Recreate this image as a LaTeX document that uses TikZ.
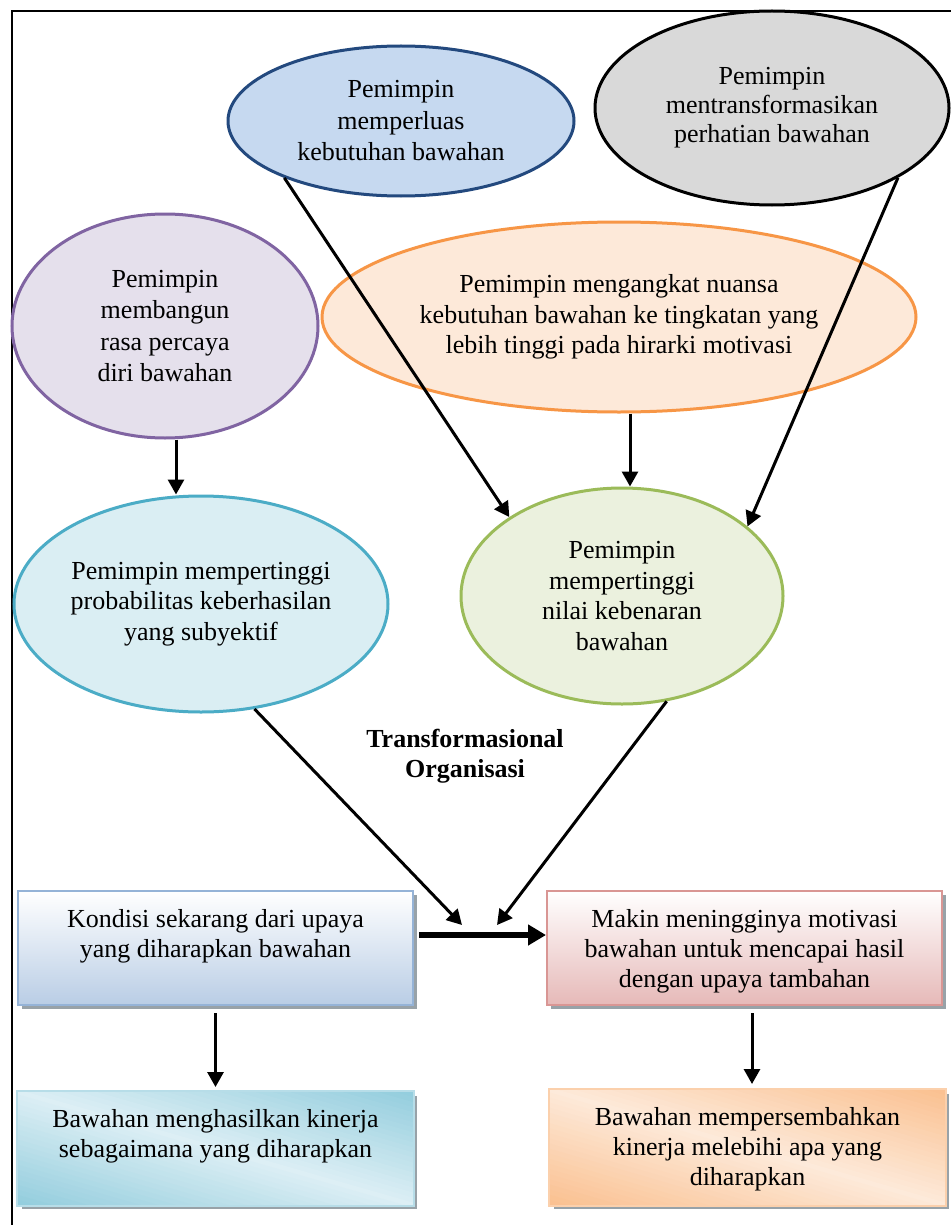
\documentclass[tikz,border=0pt]{standalone}
\usepackage{fontspec}
\setmainfont{Liberation Serif}
\usetikzlibrary{shapes.geometric,arrows.meta,shadows}
\definecolor{blueB}{HTML}{23497E}
\definecolor{blueF}{HTML}{C6D9F0}
\definecolor{grayF}{HTML}{D9D9D9}
\definecolor{purpB}{HTML}{8064A2}
\definecolor{purpF}{HTML}{E5E0EC}
\definecolor{oranB}{HTML}{F79646}
\definecolor{oranF}{HTML}{FDE9D9}
\definecolor{cyanB}{HTML}{4BACC6}
\definecolor{cyanF}{HTML}{DAEEF3}
\definecolor{greenB}{HTML}{9BBB59}
\definecolor{greenF}{HTML}{EBF1DE}
\definecolor{b1B}{HTML}{95B3D7}
\definecolor{b1F}{HTML}{B9CDE5}
\definecolor{b2B}{HTML}{D99694}
\definecolor{b2F}{HTML}{E6B9B8}
\definecolor{b3D}{HTML}{93CDDD}
\definecolor{b3L}{HTML}{DDEFF5}
\definecolor{b3B}{HTML}{B7DDE8}
\definecolor{b4D}{HTML}{FAC090}
\definecolor{b4L}{HTML}{FDEADA}
\definecolor{b4B}{HTML}{FBD0AC}
\definecolor{shad}{HTML}{98A2A8}
\begin{document}
\begin{tikzpicture}[x=1pt,y=-1pt,
  ell/.style={ellipse, inner sep=0pt, align=center, line width=3pt,
    font=\fontsize{26}{30.5}\selectfont},
  arr/.style={line width=3pt, -{Triangle[length=15pt,width=16pt]}},
  boxs/.style={rectangle, inner sep=0pt, line width=2pt,
    minimum width=395pt, minimum height=114pt,
    drop shadow={shadow xshift=4pt, shadow yshift=-4pt, fill=shad, opacity=1}},
  txt/.style={align=center, inner sep=0pt, anchor=north,
    font=\fontsize{26}{30}\selectfont}]
\useasboundingbox (0,0) rectangle (950,1225);
\fill[white] (0,0) rectangle (950,1225);
% frame
\draw[line width=2.6pt] (952,11) -- (12,11) -- (12,1227);
% ellipses
\node[ell, draw=blueB, fill=blueF, minimum width=346pt, minimum height=150pt,
  font=\fontsize{26}{31.5}\selectfont]
  (E1) at (401,121) {Pemimpin\\memperluas\\kebutuhan bawahan};
\node[ell, draw=black, fill=grayF, minimum width=354pt, minimum height=194pt,
  font=\fontsize{26}{29}\selectfont]
  (E2) at (772,108) {Pemimpin\\mentransformasikan\\perhatian bawahan};
\node[ell, draw=purpB, fill=purpF, minimum width=306pt, minimum height=224pt,
  font=\fontsize{26}{31.5}\selectfont]
  (E3) at (165,326) {Pemimpin\\membangun\\rasa percaya\\diri bawahan};
\node[ell, draw=oranB, fill=oranF, minimum width=594pt, minimum height=190pt]
  (E4) at (619,317) {Pemimpin mengangkat nuansa\\kebutuhan bawahan ke tingkatan yang\\lebih tinggi pada hirarki motivasi};
\node[ell, draw=cyanB, fill=cyanF, minimum width=374pt, minimum height=216pt]
  (E5) at (201,604) {Pemimpin mempertinggi\\probabilitas keberhasilan\\yang subyektif};
\node[ell, draw=greenB, fill=greenF, minimum width=322pt, minimum height=216pt]
  (E6) at (622,596) {Pemimpin\\mempertinggi\\nilai kebenaran\\bawahan};
% title
\node[align=center, inner sep=0pt, font=\fontsize{26}{30}\selectfont\bfseries]
  (title) at (465,756) {Transformasional\\Organisasi};
% boxes
\node[boxs, draw=b1B, top color=white, bottom color=b1F] (B1) at (215.5,948) {};
\node[txt] (T1) at ([yshift=-19pt]B1.north) {Kondisi sekarang dari upaya\\yang diharapkan bawahan};
\node[boxs, draw=b2B, top color=white, bottom color=b2F] (B2) at (744.5,948) {};
\node[txt] (T2) at ([yshift=-19pt]B2.north) {Makin meningginya motivasi\\bawahan untuk mencapai hasil\\dengan upaya tambahan};
% box 3 with diagonal reflected gradient
\node[boxs, draw=b3B, fill=b3L, minimum height=113pt] (B3) at (215.5,1148.5) {};
\begin{scope}
  \clip (18,1092) rectangle (413,1205);
  \foreach \i in {0,...,44} {
    \pgfmathsetmacro\da{-113+\i*226/45}
    \pgfmathsetmacro\db{\da+226/45+1}
    \pgfmathtruncatemacro\p{max(0,min(100,100-100*abs(\da+113/45)/113))}
    \fill[b3L!\p!b3D] (18,1092+\da) -- (413,1205+\da) -- (413,1205+\db) -- (18,1092+\db) -- cycle;
  }
\end{scope}
\draw[b3B, line width=2pt] (B3.south west) rectangle (B3.north east);
\node[txt] (T3) at ([yshift=-18pt]B3.north) {Bawahan menghasilkan kinerja\\sebagaimana yang diharapkan};
% box 4 with diagonal reflected gradient
\node[boxs, draw=b4B, fill=b4L, minimum height=115pt] (B4) at (747.5,1147.5) {};
\begin{scope}
  \clip (550,1090) rectangle (945,1205);
  \foreach \i in {0,...,44} {
    \pgfmathsetmacro\da{-115+\i*230/45}
    \pgfmathsetmacro\db{\da+230/45+1}
    \pgfmathtruncatemacro\p{max(0,min(100,100-100*abs(\da+115/45)/115))}
    \fill[b4L!\p!b4D] (550,1090+\da) -- (945,1205+\da) -- (945,1205+\db) -- (550,1090+\db) -- cycle;
  }
\end{scope}
\draw[b4B, line width=2pt] (B4.south west) rectangle (B4.north east);
\node[txt] (T4) at ([yshift=-18pt]B4.north) {Bawahan mempersembahkan\\kinerja melebihi apa yang\\diharapkan};
% connectors
\coordinate (J1) at (462,925);
\coordinate (J2) at (497,925);
\draw[arr] (E1.206) -- (E6.145);
\draw[arr] (E2.331) -- (E6.29);
\draw[arr] ([xshift=11pt]E4.south) -- ([xshift=8pt]E6.north);
\draw[arr] ([xshift=11pt]E3.south) -- ([xshift=-25pt]E5.north);
\draw[arr] (E5.297) -- (J1);
\draw[arr] (E6.293) -- (J2);
\draw[line width=6pt, -{Triangle[length=18pt,width=20pt]}]
  ([xshift=5pt,yshift=13pt]B1.east) -- ([yshift=13pt]B2.west);
\draw[arr] ([yshift=-7pt]B1.south) -- ([yshift=4pt]B3.north);
\draw[arr] ([xshift=7.5pt,yshift=-7pt]B2.south) -- ([xshift=4.5pt,yshift=5pt]B4.north);
\end{tikzpicture}
\end{document}
